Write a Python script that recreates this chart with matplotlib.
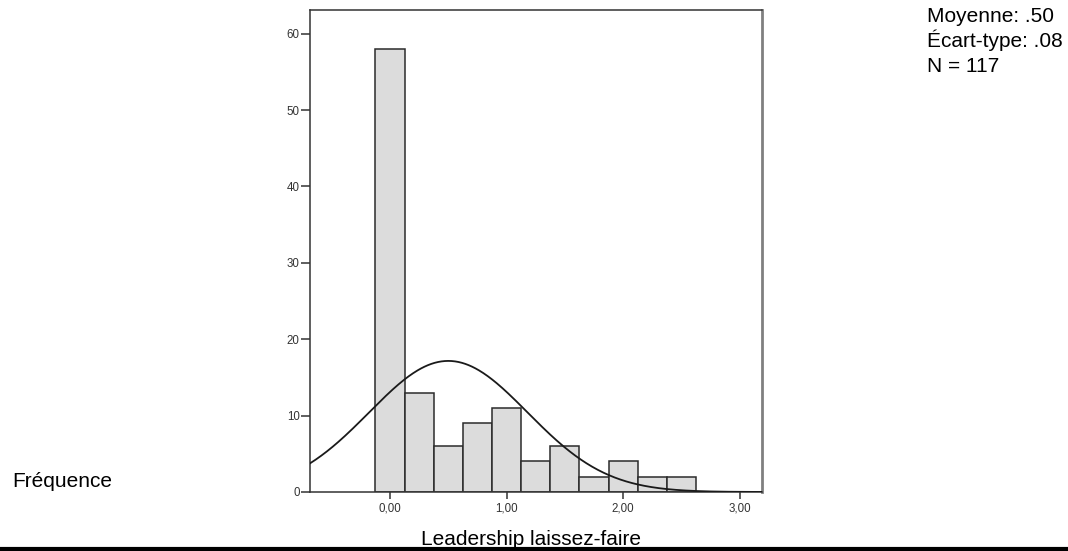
import numpy as np
import matplotlib
matplotlib.use("Agg")
import matplotlib.pyplot as plt
from matplotlib.lines import Line2D

# Histogram data (read from the SPSS output)
bin_centers = [0.00, 0.25, 0.50, 0.75, 1.00, 1.25, 1.50, 1.75, 2.00, 2.25, 2.50]
counts = [58, 13, 6, 9, 11, 4, 6, 2, 4, 2, 2]
BIN_WIDTH = 0.25

# Fitted normal curve parameters (estimated from the curve shape)
CURVE_MEAN = 0.50
CURVE_SD = 0.68
N_TOTAL = 117

x_ticks = [0, 1, 2, 3]
x_tick_labels = ["0,00", "1,00", "2,00", "3,00"]
y_ticks = [0, 10, 20, 30, 40, 50, 60]

stats_lines = ["Moyenne: .50", "Écart-type: .08", "N = 117"]

plt.rcParams['font.family'] = ['Liberation Sans', 'DejaVu Sans']

W, H = 1068, 551
fig = plt.figure(figsize=(W / 100, H / 100), dpi=100)
ax = fig.add_axes([310 / W, 59 / H, 452 / W, 482 / H])

ax.bar(bin_centers, counts, width=BIN_WIDTH, color="#dcdcdc",
       edgecolor="#2b2b2b", linewidth=1.1, zorder=2)

xmin, xmax = -0.686, 3.19
xs = np.linspace(xmin, xmax, 400)
pdf = np.exp(-0.5 * ((xs - CURVE_MEAN) / CURVE_SD) ** 2) / (CURVE_SD * np.sqrt(2 * np.pi))
ax.plot(xs, N_TOTAL * BIN_WIDTH * pdf, color="#1a1a1a", linewidth=1.3, zorder=3)

ax.set_xlim(xmin, xmax)
ax.set_ylim(0, 63.1)
ax.set_xticks(x_ticks)
ax.set_xticklabels(x_tick_labels)
ax.set_yticks(y_ticks)
ax.tick_params(axis="both", direction="out", width=1.1, color="#333333",
               labelsize=8.3, labelcolor="#333333")
ax.tick_params(axis="y", length=6.5, pad=1)
ax.tick_params(axis="x", length=5, pad=2.5)

for side in ["left", "bottom", "top"]:
    ax.spines[side].set_color("#333333")
    ax.spines[side].set_linewidth(1.1)
ax.spines["right"].set_color("#808080")
ax.spines["right"].set_linewidth(2)

fig.text(531 / W, 1 - 545 / H, "Leadership laissez-faire",
         ha="center", va="baseline", fontsize=15)
fig.text(12 / W, 1 - 487 / H, "Fréquence", ha="left", va="baseline", fontsize=15)

for i, line in enumerate(stats_lines):
    fig.text(927 / W, 1 - (21.7 + 25 * i) / H, line,
             ha="left", va="baseline", fontsize=15)

# black rule at the very bottom
fig.add_artist(Line2D([0, 1], [2 / H, 2 / H], color="black", linewidth=3,
                      transform=fig.transFigure))

fig.savefig("out.png", dpi=100)
